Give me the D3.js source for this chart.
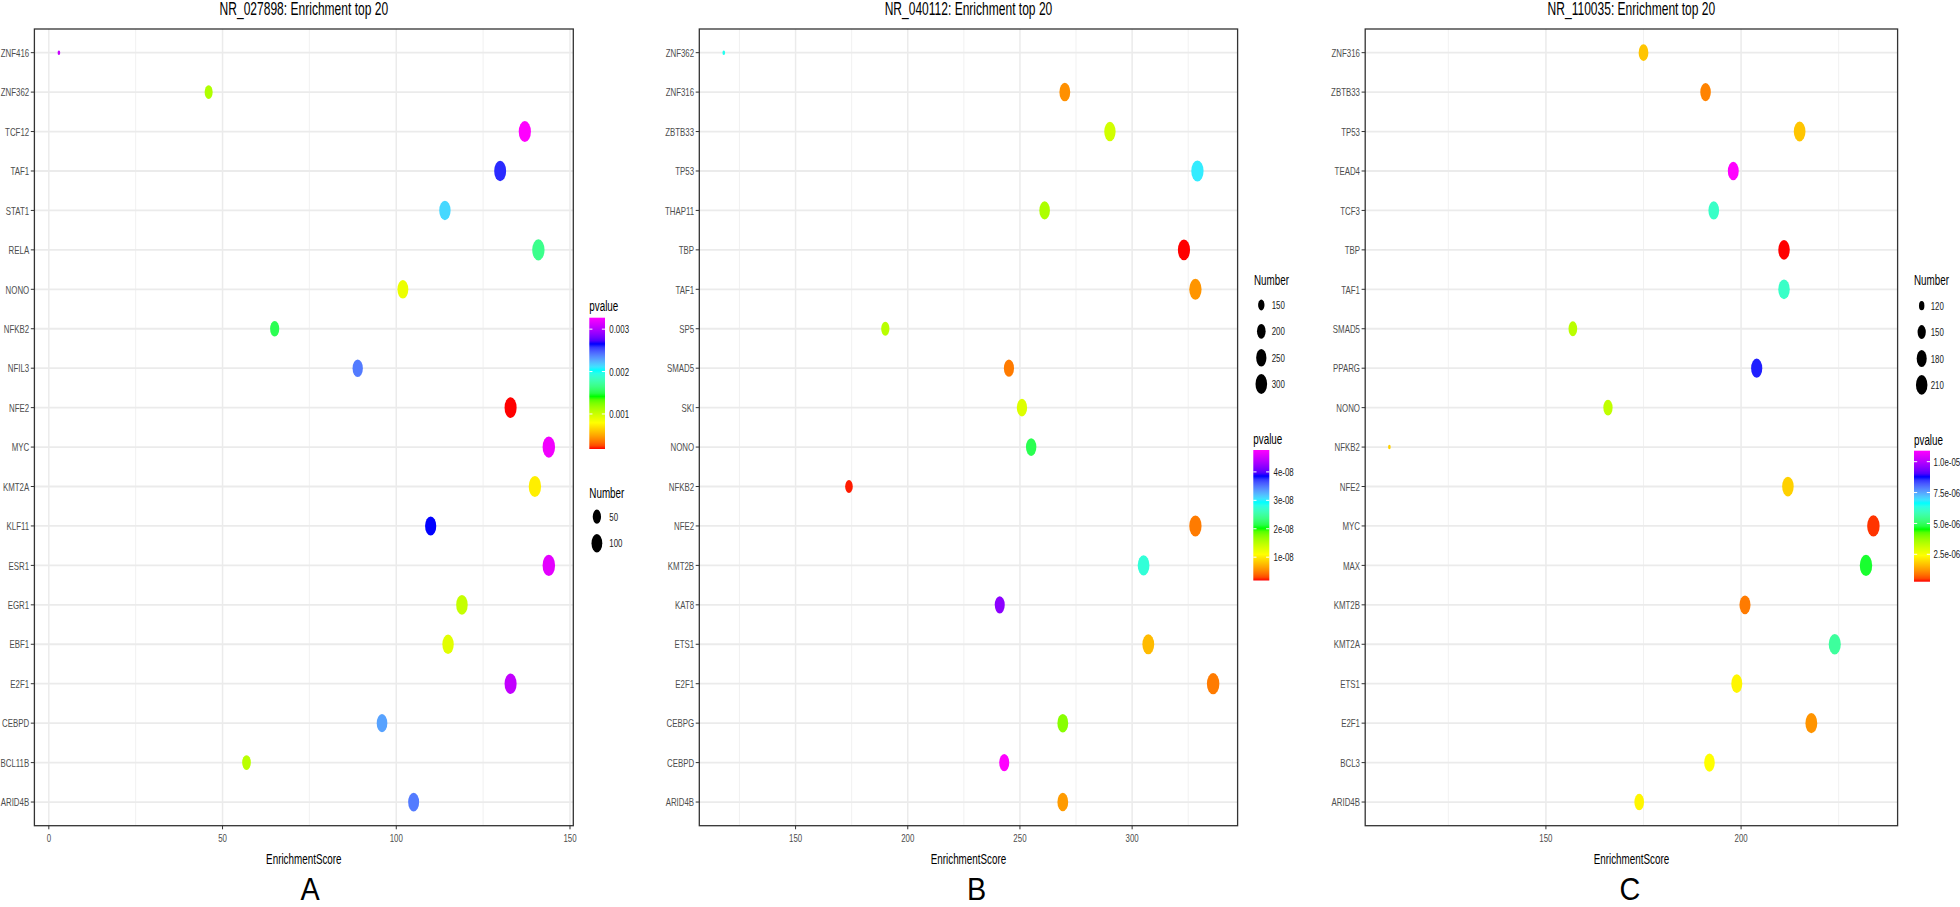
<!DOCTYPE html>
<html><head><meta charset="utf-8">
<script src="https://cdn.jsdelivr.net/npm/d3@7"></script>
<style>
body{margin:0;background:#fff;}
svg{display:block;}
text{font-family:"Liberation Sans",Arial,Helvetica,sans-serif;}
</style>
</head><body>
<svg id="chart" width="1960" height="907"></svg>
<script>
// ---------------- DATA ----------------
const panelTitles = ["NR_027898: Enrichment top 20", "NR_040112: Enrichment top 20", "NR_110035: Enrichment top 20"];
const panelLetters = ["A", "B", "C"];

// Panel A (top to bottom as displayed)
const genesA  = ["ZNF416","ZNF362","TCF12","TAF1","STAT1","RELA","NONO","NFKB2","NFIL3","NFE2","MYC","KMT2A","KLF11","ESR1","EGR1","EBF1","E2F1","CEBPD","BCL11B","ARID4B"];
const scoreA  = [2.9,46.0,137.0,129.9,114.0,140.9,101.9,65.0,88.9,132.9,143.9,139.9,109.9,143.9,118.9,114.9,132.9,95.9,56.9,105.0];
const numberA = [3,46,137,130,114,141,102,65,89,133,144,140,110,144,119,115,133,96,57,105];
const pvalueA = [0.00307,0.00110,0.00327,0.00260,0.00214,0.00167,0.00087,0.00152,0.00240,0.000174,0.00322,0.00074,0.00265,0.00317,0.00102,0.00091,0.00305,0.00229,0.00106,0.00240];

// Panel B
const genesB  = ["ZNF362","ZNF316","ZBTB33","TP53","THAP11","TBP","TAF1","SP5","SMAD5","SKI","NONO","NFKB2","NFE2","KMT2B","KAT8","ETS1","E2F1","CEBPG","CEBPD","ARID4B"];
const scoreB  = [118.0,270.0,290.1,329.1,261.0,323.1,328.2,190.0,245.1,250.9,255.0,173.8,328.2,305.1,241.0,307.2,336.1,269.1,243.0,269.1];
const numberB = [118,270,290,329,261,323,328,190,245,251,255,174,328,305,241,307,336,269,243,269];
const pvalueB = [2.86e-8,5.6e-9,1.37e-8,3.01e-8,1.56e-8,1.8e-9,5.8e-9,1.5e-8,4.7e-9,1.3e-8,2.17e-8,2.0e-9,4.7e-9,2.75e-8,4.19e-8,7.6e-9,4.7e-9,1.73e-8,4.77e-8,6.1e-9];

// Panel C
const genesC  = ["ZNF316","ZBTB33","TP53","TEAD4","TCF3","TBP","TAF1","SMAD5","PPARG","NONO","NFKB2","NFE2","MYC","MAX","KMT2B","KMT2A","ETS1","E2F1","BCL3","ARID4B"];
const scoreC  = [175.0,190.9,215.0,198.0,193.0,211.0,211.0,156.9,204.0,165.9,109.9,212.0,233.9,232.0,201.0,224.0,198.9,218.0,191.9,173.9];
const numberC = [175,191,215,198,193,211,211,157,204,166,110,212,234,232,201,224,199,218,192,174];
const pvalueC = [1.73e-6,1.02e-6,1.73e-6,1.089e-5,6.04e-6,2.8e-7,6.04e-6,3.32e-6,8.66e-6,3.25e-6,1.87e-6,1.87e-6,4.2e-7,4.66e-6,9.5e-7,5.59e-6,2.3e-6,1.2e-6,2.4e-6,2.3e-6];

// Tick labels
const xTicksA = [0, 50, 100, 150];
const xTicksB = [150, 200, 250, 300];
const xTicksC = [150, 200];
const numberBreaksA = [50, 100];
const numberBreaksB = [150, 200, 250, 300];
const numberBreaksC = [120, 150, 180, 210];
const pBreaksA = [0.001, 0.002, 0.003];
const pLabelsA = ["0.001", "0.002", "0.003"];
const pBreaksB = [1e-8, 2e-8, 3e-8, 4e-8];
const pLabelsB = ["1e-08", "2e-08", "3e-08", "4e-08"];
const pBreaksC = [2.5e-6, 5e-6, 7.5e-6, 1e-5];
const pLabelsC = ["2.5e-06", "5.0e-06", "7.5e-06", "1.0e-05"];
const rainbowColours = ["#ff0000", "#ffff00", "#00ff00", "#00ffff", "#0000ff", "#ff00ff"];

// ---------------- LAYOUT ----------------
const SX = 0.68;          // horizontal compression of text
const DOT_ASPECT = 0.585; // horizontal compression of dots
const TOP = 29, BOTTOM = 825.7;

const panels = [
  { genes: genesA, score: scoreA, number: numberA, pvalue: pvalueA, xticks: xTicksA,
    nBreaks: numberBreaksA, pBreaks: pBreaksA, pLabels: pLabelsA,
    left: 34.4, right: 573.3, letterX: 310,
    leg: { pTitleX: 589.3, pTitleY: 311.3, barX: 589.3, barW: 15.7, barTop: 317.7, barBot: 449, pLabX: 609.3,
           nTitleX: 589.3, nTitleY: 497.5, keyX: 596.9, keyY0: 516.7, keyStep: 26.6, nLabX: 609.3 } },
  { genes: genesB, score: scoreB, number: numberB, pvalue: pvalueB, xticks: xTicksB,
    nBreaks: numberBreaksB, pBreaks: pBreaksB, pLabels: pLabelsB,
    left: 699.3, right: 1237.6, letterX: 976.7,
    leg: { nTitleX: 1254, nTitleY: 285, keyX: 1261.3, keyY0: 305, keyStep: 26.35, nLabX: 1271.7,
           pTitleX: 1253.3, pTitleY: 444.3, barX: 1253.3, barW: 16, barTop: 450, barBot: 580.5, pLabX: 1273.5 } },
  { genes: genesC, score: scoreC, number: numberC, pvalue: pvalueC, xticks: xTicksC,
    nBreaks: numberBreaksC, pBreaks: pBreaksC, pLabels: pLabelsC,
    left: 1365.2, right: 1897.6, letterX: 1630,
    leg: { nTitleX: 1914, nTitleY: 285, keyX: 1921.7, keyY0: 305.7, keyStep: 26.4, nLabX: 1930.7,
           pTitleX: 1914, pTitleY: 445, barX: 1914, barW: 16, barTop: 450.7, barBot: 581.7, pLabX: 1933.5 } }
];

const svg = d3.select("#chart");
svg.append("rect").attr("width", 1960).attr("height", 907).attr("fill", "#fff");
const defs = svg.append("defs");

function ctext(g, x, y, str, size, fill, anchor, sx) {
  return g.append("text")
    .attr("transform", `translate(${x},${y}) scale(${sx === undefined ? SX : sx},1)`)
    .attr("text-anchor", anchor || "start")
    .attr("font-size", size)
    .attr("fill", fill)
    .text(str);
}

function dotHeight(tScale, n) {
  const s = 1 + 5 * Math.sqrt(Math.max(0, tScale(n)));
  return 3.366 * s + 1.118;
}

panels.forEach((p, pi) => {
  const g = svg.append("g");
  const [smin, smax] = d3.extent(p.score);
  const ex = (smax - smin) * 0.05;
  const x = d3.scaleLinear().domain([smin - ex, smax + ex]).range([p.left, p.right]);
  const y = d3.scalePoint().domain(p.genes).range([TOP, BOTTOM]).padding(0.6);
  const [pmin, pmax] = d3.extent(p.pvalue);
  const colour = d3.scaleLinear()
    .domain(rainbowColours.map((c, i) => pmin + i / (rainbowColours.length - 1) * (pmax - pmin)))
    .range(rainbowColours)
    .interpolate(d3.interpolateLab);
  const [nmin, nmax] = d3.extent(p.number);
  const tScale = d3.scaleLinear().domain([nmin, nmax]).range([0, 1]);
  const cx = (p.left + p.right) / 2;

  // grid: minor
  const [d0, d1] = x.domain();
  const minors = [];
  p.xticks.forEach(t => { [t - 25, t + 25].forEach(m => { if (m > d0 && m < d1 && !p.xticks.includes(m) && !minors.includes(m)) minors.push(m); }); });
  g.selectAll(".minor").data(minors).enter().append("line")
    .attr("x1", d => x(d)).attr("x2", d => x(d)).attr("y1", TOP).attr("y2", BOTTOM)
    .attr("stroke", "#ededed").attr("stroke-width", 0.8);
  g.selectAll(".majx").data(p.xticks).enter().append("line")
    .attr("x1", d => x(d)).attr("x2", d => x(d)).attr("y1", TOP).attr("y2", BOTTOM)
    .attr("stroke", "#ebebeb").attr("stroke-width", 1.5);
  g.selectAll(".majy").data(p.genes).enter().append("line")
    .attr("x1", p.left).attr("x2", p.right).attr("y1", d => y(d)).attr("y2", d => y(d))
    .attr("stroke", "#ebebeb").attr("stroke-width", 1.8);

  // points
  g.selectAll(".pt").data(p.genes).enter().append("ellipse")
    .attr("cx", (d, i) => x(p.score[i]))
    .attr("cy", d => y(d))
    .attr("ry", (d, i) => dotHeight(tScale, p.number[i]) / 2)
    .attr("rx", (d, i) => dotHeight(tScale, p.number[i]) / 2 * DOT_ASPECT)
    .attr("fill", (d, i) => colour(p.pvalue[i]));

  // border
  g.append("rect").attr("x", p.left).attr("y", TOP).attr("width", p.right - p.left).attr("height", BOTTOM - TOP)
    .attr("fill", "none").attr("stroke", "#333").attr("stroke-width", 1.3);

  // y axis ticks and labels
  p.genes.forEach(gn => {
    g.append("line").attr("x1", p.left - 3.6).attr("x2", p.left).attr("y1", y(gn)).attr("y2", y(gn))
      .attr("stroke", "#333").attr("stroke-width", 1);
    ctext(g, p.left - 5.2, y(gn) + 4.2, gn, 11.6, "#4d4d4d", "end");
  });
  // x axis ticks and labels
  p.xticks.forEach(t => {
    g.append("line").attr("x1", x(t)).attr("x2", x(t)).attr("y1", BOTTOM).attr("y2", BOTTOM + 3.6)
      .attr("stroke", "#333").attr("stroke-width", 1);
    ctext(g, x(t), 842, String(t), 11.6, "#4d4d4d", "middle");
  });
  ctext(g, cx, 863.5, "EnrichmentScore", 14.5, "#000", "middle");
  ctext(g, cx, 15, panelTitles[pi], 17.7, "#000", "middle");
  ctext(g, p.letterX, 900, panelLetters[pi], 32, "#000", "middle", 0.9);

  // legends
  const L = p.leg;
  const gid = "grad" + pi;
  const grad = defs.append("linearGradient").attr("id", gid)
    .attr("x1", 0).attr("y1", 1).attr("x2", 0).attr("y2", 0);
  const nStops = 40;
  d3.range(nStops + 1).forEach(i => {
    const v = pmin + i / nStops * (pmax - pmin);
    grad.append("stop").attr("offset", i / nStops).attr("stop-color", colour(v));
  });
  ctext(g, L.pTitleX, L.pTitleY, "pvalue", 14.5, "#000", "start");
  g.append("rect").attr("x", L.barX).attr("y", L.barTop).attr("width", L.barW).attr("height", L.barBot - L.barTop)
    .attr("fill", `url(#${gid})`);
  const barY = d3.scaleLinear().domain([pmin, pmax]).range([L.barBot, L.barTop]);
  p.pBreaks.forEach((b, i) => {
    const yy = barY(b);
    g.append("line").attr("x1", L.barX).attr("x2", L.barX + L.barW / 5).attr("y1", yy).attr("y2", yy)
      .attr("stroke", "#fff").attr("stroke-width", 1);
    g.append("line").attr("x1", L.barX + L.barW * 4 / 5).attr("x2", L.barX + L.barW).attr("y1", yy).attr("y2", yy)
      .attr("stroke", "#fff").attr("stroke-width", 1);
    ctext(g, L.pLabX, yy + 4.1, p.pLabels[i], 11.6, "#1a1a1a", "start");
  });
  // size legend
  ctext(g, L.nTitleX, L.nTitleY, "Number", 14.5, "#000", "start");
  p.nBreaks.forEach((b, i) => {
    const yy = L.keyY0 + i * L.keyStep;
    const h = dotHeight(tScale, b);
    g.append("ellipse").attr("cx", L.keyX).attr("cy", yy).attr("ry", h / 2).attr("rx", h / 2 * DOT_ASPECT)
      .attr("fill", "#000");
    ctext(g, L.nLabX, yy + 4.1, String(b), 11.6, "#1a1a1a", "start");
  });
});
</script>
</body></html>
